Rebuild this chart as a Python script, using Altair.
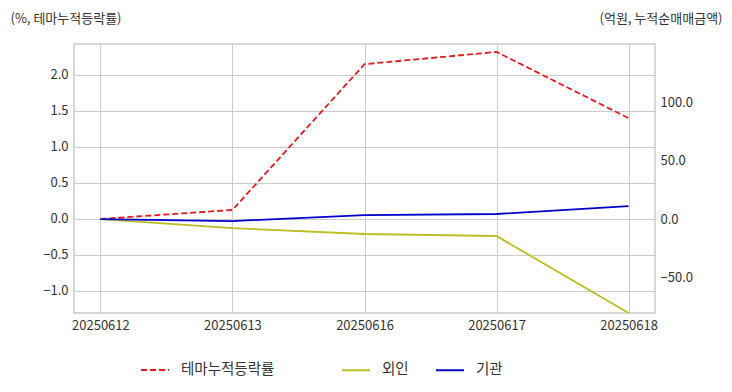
import altair as alt
import pandas as pd

dates = ["20250612", "20250613", "20250616", "20250617", "20250618"]
theme = [0.0, 0.125, 2.15, 2.32, 1.40]
foreign = [0.0, -7.7, -12.8, -14.5, -80.3]
inst = [0.0, -1.7, 3.4, 4.3, 11.1]

left_ticks = [-1.0, -0.5, 0.0, 0.5, 1.0, 1.5, 2.0]
right_ticks = [-50.0, 0.0, 50.0, 100.0]

FONT = "Noto Sans CJK KR"

df1 = pd.DataFrame({"date": dates, "value": theme, "series": ["테마누적등락률"] * 5})
df2 = pd.DataFrame({
    "date": dates * 2,
    "value": foreign + inst,
    "series": ["외인"] * 5 + ["기관"] * 5,
})

xenc = alt.X(
    "date:O",
    sort=dates,
    scale=alt.Scale(type="point", padding=0.2),
    axis=alt.Axis(title=None, labelAngle=0, ticks=False, labelPadding=6,
                  grid=True, domain=False),
)

line1 = alt.Chart(df1).mark_line(strokeWidth=1.8, strokeDash=[6, 3]).encode(
    x=xenc,
    y=alt.Y(
        "value:Q",
        scale=alt.Scale(domain=[-1.306, 2.43], nice=False, zero=False),
        axis=alt.Axis(
            title="(%, 테마누적등락률)", values=left_ticks, format=".1f",
            ticks=False, domain=False, labelPadding=6,
            titleAngle=0, titleAlign="left", titleBaseline="middle",
            titleX=-64, titleY=-26, titleFontWeight="normal",
            titleFontSize=13, titleColor="#333333",
        ),
    ),
    color=alt.Color(
        "series:N",
        scale=alt.Scale(domain=["테마누적등락률"], range=["#e41a1c"]),
        legend=alt.Legend(
            title=None, orient="none", direction="horizontal",
            legendX=66, legendY=311, symbolType="stroke", symbolSize=784,
            symbolStrokeWidth=2, symbolDash=[6, 3], labelOffset=11,
            labelFontSize=14.5, padding=0,
        ),
    ),
)

line2 = alt.Chart(df2).mark_line(strokeWidth=1.8).encode(
    x=xenc,
    y=alt.Y(
        "value:Q",
        scale=alt.Scale(domain=[-80.3, 149.6], nice=False, zero=False),
        axis=alt.Axis(
            title="(억원, 누적순매매금액)", orient="right", values=right_ticks,
            format=".1f", ticks=False, domain=False, labelPadding=5,
            titleAngle=0, titleAlign="right", titleBaseline="middle",
            titleX=67, titleY=-26, titleFontWeight="normal",
            titleFontSize=13, titleColor="#333333",
        ),
    ),
    color=alt.Color(
        "series:N",
        sort=["외인", "기관"],
        scale=alt.Scale(domain=["외인", "기관"], range=["#bcbd22", "#0000cc"]),
        legend=alt.Legend(
            title=None, orient="none", direction="horizontal",
            legendX=267, legendY=311, symbolType="stroke", symbolSize=784,
            symbolStrokeWidth=2, labelOffset=11, labelFontSize=14.5,
            columnPadding=23, padding=0,
        ),
    ),
)

chart = alt.layer(line1, line2).resolve_scale(
    y="independent", color="independent"
).resolve_legend(color="independent").properties(
    width=581, height=269,
    autosize=alt.AutoSizeParams(type="none"),
    padding={"left": 66, "top": 36, "right": 69, "bottom": 71},
).configure_view(
    stroke="#cccccc", strokeWidth=1.5
).configure_axis(
    gridColor="#cccccc", gridWidth=1, labelFont=FONT, titleFont=FONT,
    labelFontSize=13, labelColor="#333333",
).configure_legend(
    labelFont=FONT, labelColor="#333333",
)

chart.save("out.html", embed_options={"renderer": "svg", "actions": False})
